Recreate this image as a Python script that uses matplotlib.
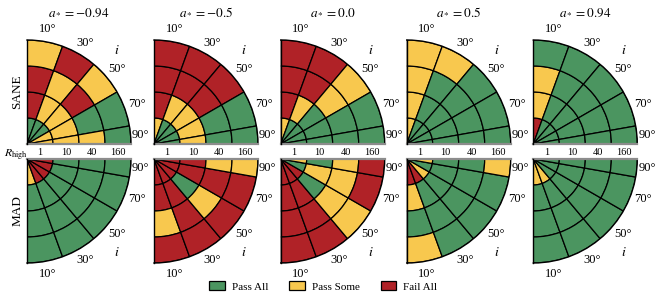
import numpy as np
import matplotlib
matplotlib.use("Agg")
import matplotlib.pyplot as plt
from matplotlib.patches import Patch

plt.rcParams["font.family"] = ["Liberation Serif", "DejaVu Serif"]
plt.rcParams["mathtext.fontset"] = "stix"

# ---- data ----
spins = ["-0.94", "-0.5", "0.0", "0.5", "0.94"]
incl = [10, 30, 50, 70, 90]          # inclination i (deg)
r_high = ["1", "10", "40", "160"]    # R_high rings (inner -> outer)
status = {"G": "Pass All", "Y": "Pass Some", "R": "Fail All"}
colors = {"G": "#4B9560", "Y": "#F8C84E", "R": "#B02227"}

# each panel: one string per R_high ring, letters for i = 10,30,50,70,90
sane = [
    ["GGGYY", "RYYYY", "RYRGY", "YRYGG"],
    ["YGGGG", "RYYYY", "RRRGG", "RRRGG"],
    ["YGGGG", "RYGGG", "RRYGG", "RRYGG"],
    ["YGGGG", "YGGGG", "YGGGG", "YYGGG"],
    ["RGGGG", "YGGGG", "YGGGG", "GGGGG"],
]
mad = [
    ["YRRRR", "GGGGG", "GGGGG", "GGGGG"],
    ["RRRRR", "RRGRR", "YRYRY", "RRRRY"],
    ["RRRGY", "RRGYG", "RRYYY", "RRYRR"],
    ["RRYGY", "YGGGG", "GGGGG", "YGGGY"],
    ["YYGGG", "GGGGG", "GGGGG", "GGGGG"],
]

W, H = 665, 304
fig = plt.figure(figsize=(W / 100, H / 100), dpi=100)

x0 = [27, 154, 280.7, 406.7, 533.3]   # panel origins (px)
rad = 104                              # panel radius (px)

def panel(left, top, grid, flip):
    ax = fig.add_axes([left / W, (H - top - rad) / H, rad / W, rad / H], projection="polar")
    ax.set_thetamin(0); ax.set_thetamax(90)
    ax.set_theta_zero_location("E")
    ax.set_theta_direction(-1 if flip else 1)
    th = np.radians(90 - np.array(incl))
    for k, ring in enumerate(grid):
        ax.bar(th, 1, width=np.radians(20), bottom=k,
               color=[colors[c] for c in ring], edgecolor="black", linewidth=0.9)
    ax.set_ylim(0, len(r_high))
    ax.grid(False); ax.set_xticks([]); ax.set_yticks([])
    ax.spines["polar"].set_linewidth(1.0)
    ax.spines["end"].set_color("black"); ax.spines["end"].set_linewidth(1.0)
    ax.spines["start"].set_color("#8c8c8c"); ax.spines["start"].set_linewidth(1.6)
    for i in incl[:-1]:
        ax.text(np.radians(90 - i), 4.5, f"{i}°", ha="center", va="center", fontsize=9)
    ax.text(np.radians(5), 4.05, "90°", ha="left", va="center", fontsize=9)
    ax.text(np.radians(46), 5.0, "$i$", ha="center", va="center", fontsize=10)
    return ax

for j in range(5):
    a = panel(x0[j], 40, sane[j], False)
    a.text(0.5, 1.26, f"$a_*={spins[j]}$", transform=a.transAxes, ha="center", va="center", fontsize=9.5)
    for k, lab in enumerate(r_high):
        a.annotate(lab, (0, k + 0.5), xytext=(0, -3), textcoords="offset points",
                   ha="center", va="top", fontsize=7.5)
    if j == 0:
        a.annotate(r"$R_{\rm high}$", (0, 0), xytext=(1, -2.5), textcoords="offset points",
                   ha="right", va="top", fontsize=8.5)
        a.text(-0.095, 0.5, "SANE", transform=a.transAxes, rotation=90, ha="center", va="center", fontsize=9.5)
    b = panel(x0[j], 159, mad[j], True)
    if j == 0:
        b.text(-0.095, 0.5, "MAD", transform=b.transAxes, rotation=90, ha="center", va="center", fontsize=9.5)

handles = [Patch(facecolor=colors[c], edgecolor="black", linewidth=0.9, label=status[c]) for c in "GYR"]
fig.legend(handles=handles, ncol=3, loc="center", bbox_to_anchor=(0.486, 0.058), frameon=False,
           fontsize=8, handlelength=1.4, handleheight=0.9, handletextpad=0.6, columnspacing=1.9)

fig.savefig("out.png", dpi=100)
